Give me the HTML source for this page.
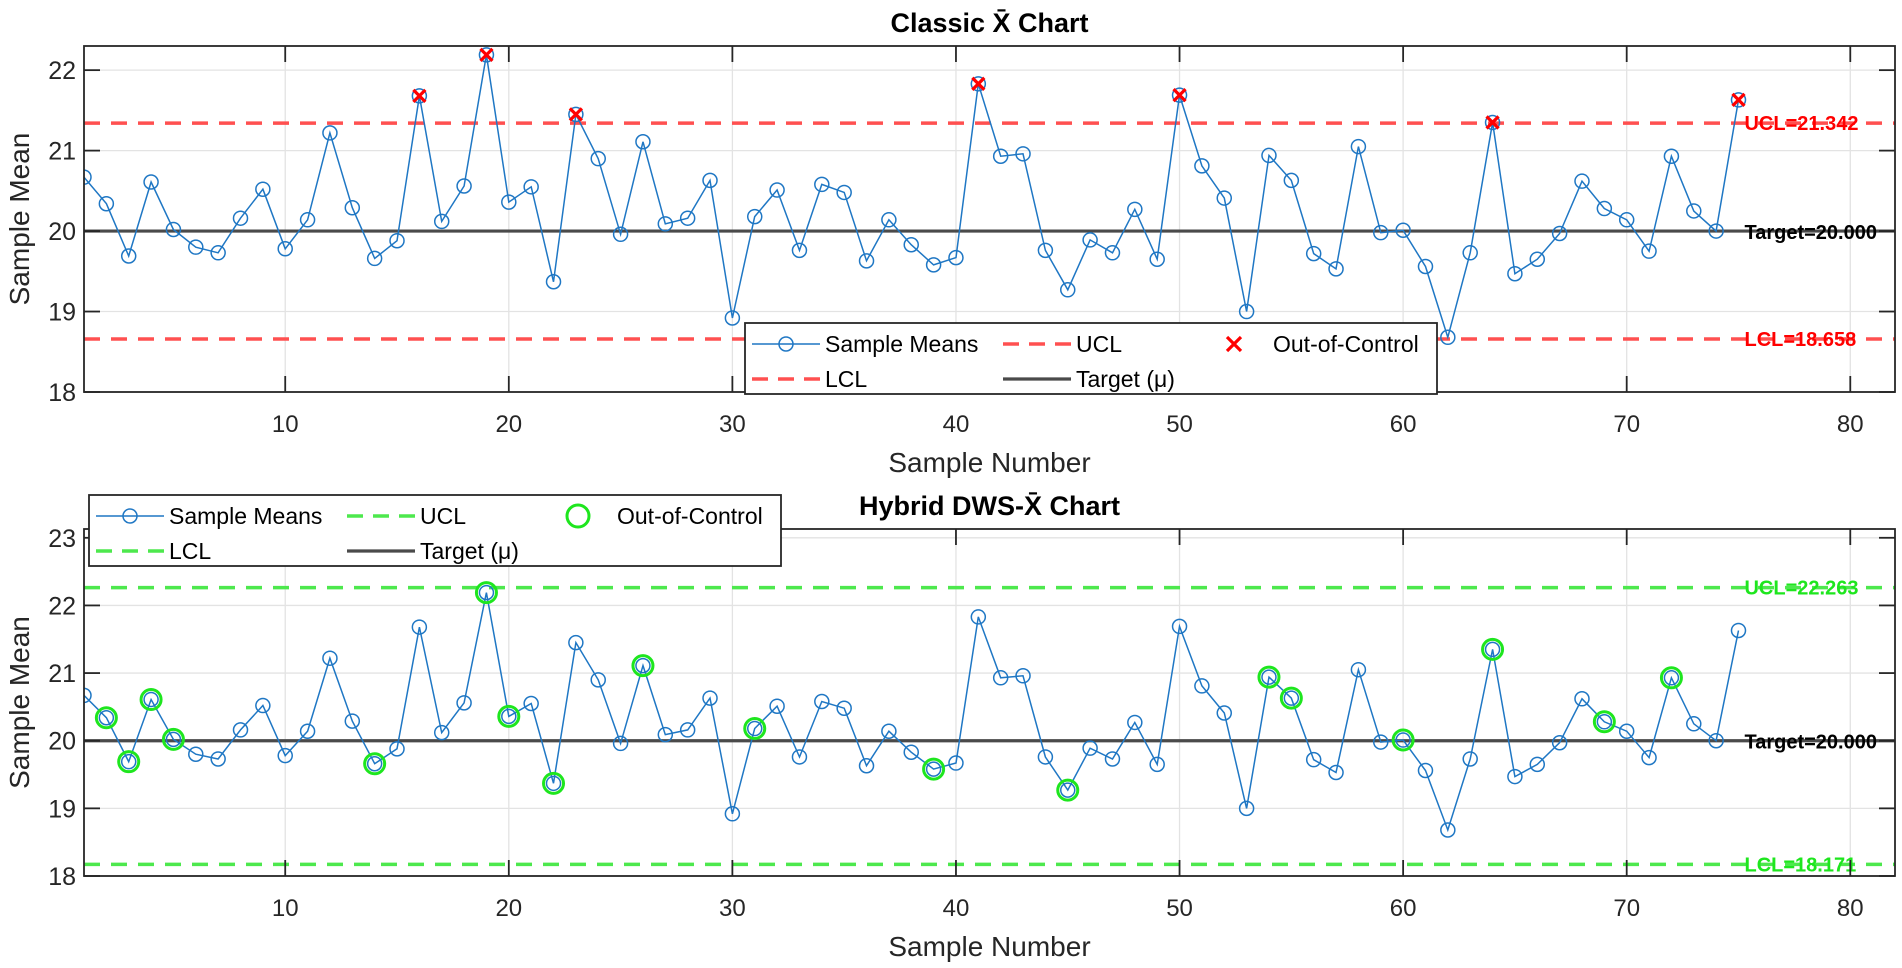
<!DOCTYPE html>
<html><head><meta charset="utf-8"><style>
html,body{margin:0;padding:0;background:#fff;}
svg{display:block;font-family:"Liberation Sans",Arial,sans-serif;}
</style></head><body>
<svg id="chart" width="1902" height="968" viewBox="0 0 1902 968" xmlns="http://www.w3.org/2000/svg"></svg>
<script>
const sampleNumbers = [];
for (let i = 1; i <= 75; i++) sampleNumbers.push(i);
const sampleMeans = [20.67,20.34,19.69,20.61,20.02,19.80,19.73,20.16,20.52,19.78,20.14,21.22,20.29,19.66,19.88,21.68,20.12,20.56,22.19,20.36,20.55,19.37,21.45,20.90,19.96,21.11,20.09,20.16,20.63,18.92,20.18,20.51,19.76,20.58,20.48,19.63,20.14,19.83,19.58,19.67,21.83,20.93,20.96,19.76,19.27,19.89,19.73,20.27,19.65,21.69,20.81,20.41,19.00,20.94,20.63,19.72,19.53,21.05,19.98,20.01,19.56,18.68,19.73,21.35,19.47,19.65,19.97,20.62,20.28,20.14,19.75,20.93,20.25,20.00,21.63];
const classicOOC = [16,19,23,41,50,64,75];
const hybridOOC = [2,3,4,5,14,19,20,22,26,31,39,45,54,55,60,64,69,72];
const classicLimits = [21.342, 18.658];
const hybridLimits = [22.263, 18.171];
const targetValue = 20.000;
const xTicks = [10,20,30,40,50,60,70,80];
const classicYTicks = [18,19,20,21,22];
const hybridYTicks = [18,19,20,21,22,23];

const NS = "http://www.w3.org/2000/svg";
const svg = document.getElementById('chart');
function mk(tag, attrs, parent) {
  const e = document.createElementNS(NS, tag);
  for (const k in attrs) e.setAttribute(k, attrs[k]);
  (parent || svg).appendChild(e);
  return e;
}

function drawPanel(p) {
  const g = mk('g', {});
  
  
  const L = 84, R = 1895, T = p.top, B = p.bottom;
  const xmin = 1, xmax = 82;
  const xs = v => L + (v - xmin) / (xmax - xmin) * (R - L);
  const ys = v => B - (v - p.ymin) / (p.ymax - p.ymin) * (B - T);
  const clipId = 'clip-' + p.name;
  const defs = mk('defs', {}, g);
  const cp = mk('clipPath', {id: clipId}, defs);
  mk('rect', {x: L, y: T, width: R - L, height: B - T}, cp);
  mk('rect', {x: L, y: T, width: R - L, height: B - T, fill: '#fff'}, g);
  // grid
  xTicks.forEach(t => {
    const gl = mk('line', {x1: xs(t), x2: xs(t), y1: T, y2: B, stroke: '#e3e3e3', 'stroke-width': 1.3}, g);
    
    
  });
  p.yTicks.forEach(t => {
    const gl = mk('line', {x1: L, x2: R, y1: ys(t), y2: ys(t), stroke: '#e3e3e3', 'stroke-width': 1.3}, g);
    
    
  });
  const plot = mk('g', {'clip-path': 'url(#' + clipId + ')'}, g);
  // limit lines
  const ucl = mk('line', {x1: L, x2: R, y1: ys(p.limits[0]), y2: ys(p.limits[0]), stroke: p.limColor, 'stroke-width': 3.5, 'stroke-dasharray': '16 11'}, plot);
  
  
  const lcl = mk('line', {x1: L, x2: R, y1: ys(p.limits[1]), y2: ys(p.limits[1]), stroke: p.limColor, 'stroke-width': 3.5, 'stroke-dasharray': '16 11'}, plot);
  
  
  const tg = mk('line', {x1: L, x2: R, y1: ys(targetValue), y2: ys(targetValue), stroke: '#4a4a4a', 'stroke-width': 3.2}, plot);
  
  
  // series
  const pts = sampleMeans.map((v, i) => xs(sampleNumbers[i]).toFixed(1) + ',' + ys(v).toFixed(1)).join(' ');
  const pl = mk('polyline', {points: pts, fill: 'none', stroke: '#1f77c4', 'stroke-width': 1.5}, plot);
  
  
  sampleMeans.forEach((v, i) => {
    const c = mk('circle', {cx: xs(sampleNumbers[i]), cy: ys(v), r: 7, fill: 'none', stroke: '#1f77c4', 'stroke-width': 1.5}, plot);
    
    
  });
  p.ooc.forEach(n => {
    const x = xs(n), y = ys(sampleMeans[n - 1]);
    if (p.marker === 'x') {
      const m = mk('path', {d: `M${x-6},${y-6}L${x+6},${y+6}M${x-6},${y+6}L${x+6},${y-6}`, stroke: '#ff0000', 'stroke-width': 3.2, fill: 'none'}, plot);
      
      
    } else {
      const m = mk('circle', {cx: x, cy: y, r: 10, fill: 'none', stroke: '#1ee61e', 'stroke-width': 3}, plot);
      
      
    }
  });
  // labels
  const lx = xs(75) + 6;
  const t1 = mk('text', {x: lx, y: ys(p.limits[0]) + 7, fill: p.labColor, 'font-size': 20, 'font-weight': 'bold'}, plot);
  t1.textContent = 'UCL=' + p.limits[0].toFixed(3);
  
  
  const t2 = mk('text', {x: lx, y: ys(p.limits[1]) + 7, fill: p.labColor, 'font-size': 20, 'font-weight': 'bold'}, plot);
  t2.textContent = 'LCL=' + p.limits[1].toFixed(3);
  
  
  const t3 = mk('text', {x: lx, y: ys(targetValue) + 8, fill: '#000', 'font-size': 20, 'font-weight': 'bold'}, plot);
  t3.textContent = 'Target=' + targetValue.toFixed(3);
  
  
  // axes box
  mk('rect', {x: L, y: T, width: R - L, height: B - T, fill: 'none', stroke: '#262626', 'stroke-width': 1.8}, g);
  xTicks.forEach(t => {
    mk('line', {x1: xs(t), x2: xs(t), y1: B, y2: B - 16, stroke: '#262626', 'stroke-width': 1.8}, g);
    mk('line', {x1: xs(t), x2: xs(t), y1: T, y2: T + 16, stroke: '#262626', 'stroke-width': 1.8}, g);
    const tl = mk('text', {x: xs(t), y: B + 40, 'text-anchor': 'middle', 'font-size': 24, fill: '#262626'}, g);
    tl.textContent = t;
    
    
  });
  p.yTicks.forEach(t => {
    mk('line', {x1: L, x2: L + 16, y1: ys(t), y2: ys(t), stroke: '#262626', 'stroke-width': 1.8}, g);
    mk('line', {x1: R, x2: R - 16, y1: ys(t), y2: ys(t), stroke: '#262626', 'stroke-width': 1.8}, g);
    const tl = mk('text', {x: L - 8, y: ys(t) + 9, 'text-anchor': 'end', 'font-size': 25, fill: '#262626'}, g);
    tl.textContent = t;
    
    
  });
  const xl = mk('text', {x: (L + R) / 2, y: B + 80, 'text-anchor': 'middle', 'font-size': 28, fill: '#262626'}, g);
  xl.textContent = 'Sample Number';
  
  
  const yl = mk('text', {x: 0, y: 0, transform: `translate(29,${(T + B) / 2}) rotate(-90)`, 'text-anchor': 'middle', 'font-size': 28, fill: '#262626'}, g);
  yl.textContent = 'Sample Mean';
  
  
  const ti = mk('text', {x: (L + R) / 2, y: T - 14, 'text-anchor': 'middle', 'font-size': 27, 'font-weight': 'bold', fill: '#000'}, g);
  ti.textContent = p.title;
  
  
  // legend
  const lg = mk('g', {transform: `translate(${p.legX},${p.legY})`}, g);
  
  
  mk('rect', {x: 0, y: 0, width: 692, height: 71, fill: '#fff', stroke: '#262626', 'stroke-width': 1.8}, lg);
  const r1 = 21, r2 = 56;
  mk('line', {x1: 7, x2: 75, y1: r1, y2: r1, stroke: '#1f77c4', 'stroke-width': 1.6}, lg);
  mk('circle', {cx: 41, cy: r1, r: 7, fill: 'none', stroke: '#1f77c4', 'stroke-width': 1.5}, lg);
  mk('line', {x1: 258, x2: 326, y1: r1, y2: r1, stroke: p.limColor, 'stroke-width': 3.5, 'stroke-dasharray': '16 10'}, lg);
  mk('line', {x1: 7, x2: 75, y1: r2, y2: r2, stroke: p.limColor, 'stroke-width': 3.5, 'stroke-dasharray': '16 10'}, lg);
  mk('line', {x1: 258, x2: 326, y1: r2, y2: r2, stroke: '#4a4a4a', 'stroke-width': 3.2}, lg);
  if (p.marker === 'x') {
    mk('path', {d: `M482,${r1-7}L496,${r1+7}M482,${r1+7}L496,${r1-7}`, stroke: '#ff0000', 'stroke-width': 3.2}, lg);
  } else {
    mk('circle', {cx: 489, cy: r1, r: 11, fill: 'none', stroke: '#1ee61e', 'stroke-width': 3}, lg);
  }
  const entries = [['Sample Means', 80, r1], ['UCL', 331, r1], ['Out-of-Control', 528, r1], ['LCL', 80, r2], ['Target (\u03bc)', 331, r2]];
  entries.forEach(e => {
    const tx = mk('text', {x: e[1], y: e[2] + 8, 'font-size': 23, fill: '#000'}, lg);
    tx.textContent = e[0];
    
    
  });
}

drawPanel({name: 'classic-xbar-chart', title: 'Classic X\u0304 Chart', top: 46, bottom: 392, ymin: 18, ymax: 22.3,
  yTicks: classicYTicks, limits: classicLimits, ooc: classicOOC, marker: 'x',
  limColor: '#ff5050', labColor: '#ff0000', legX: 745, legY: 323});
drawPanel({name: 'hybrid-dws-xbar-chart', title: 'Hybrid DWS-X\u0304 Chart', top: 529, bottom: 876, ymin: 18, ymax: 23.13,
  yTicks: hybridYTicks, limits: hybridLimits, ooc: hybridOOC, marker: 'o',
  limColor: '#4de84d', labColor: '#1ee61e', legX: 89, legY: 495});
</script>
</body></html>
